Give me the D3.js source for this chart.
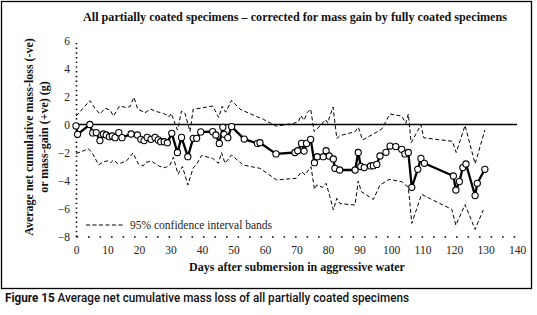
<!DOCTYPE html>
<html>
<head>
<meta charset="utf-8">
<script src="https://cdn.jsdelivr.net/npm/d3@7"></script>
<style>
  html, body { margin: 0; padding: 0; background: #fff; }
  svg { display: block; }
</style>
</head>
<body>
<div id="chart"></div>
<script>
// average net cumulative mass change, [day, grams]
const meanSeries = [
    [0, -0.1], [0.5, -0.7], [4.4, 0], [5.3, -0.6], [6.4, -0.58], [7.6, -1.15], [8.7, -0.68],
    [9.6, -0.75], [10.6, -0.87], [11.5, -0.82], [12.4, -0.94], [13.6, -0.58], [14.6, -0.94],
    [17.5, -0.68], [19.5, -0.75], [20.6, -1.06], [21.6, -1.15], [22.6, -0.92], [23.8, -1.06],
    [25.1, -0.92], [26.1, -1.1], [26.9, -1.23], [28, -1.23], [29, -1.3], [30.4, -0.63],
    [32.2, -2.0], [33.5, -0.92], [35.5, -2.3], [37.2, -0.99], [38.3, -0.99], [39.6, -0.53],
    [43.4, -0.51], [44.4, -0.75], [45.5, -1.35], [46.6, -0.2], [47, -0.7], [48.2, -0.94],
    [49.4, -0.15], [53.4, -1.04], [57.6, -1.35], [58.4, -1.3], [63.5, -2.1], [69.5, -2.0],
    [70.4, -1.87], [71.6, -1.35], [72.4, -1.9], [73.2, -1.35], [74.5, -1.06], [75.7, -2.73],
    [76.6, -2.3], [78.5, -2.3], [79.4, -1.87], [80.4, -2.25], [81.7, -2.46], [82.2, -3.13],
    [83.7, -3.25], [88.6, -3.25], [89.6, -2.0], [90.4, -3.0], [91.5, -3.08], [93.5, -2.96],
    [94.4, -2.94], [95.5, -2.85], [96.5, -2.25], [98.4, -1.99], [99.7, -1.54], [101.5, -1.58],
    [103.4, -1.77], [104.4, -2.1], [105.5, -2.0], [106.6, -4.49], [108.5, -3.2], [109.5, -2.42],
    [110.6, -2.77], [119.8, -3.68], [120.6, -4.68], [121.7, -4.08], [122.8, -3.08],
    [123.8, -2.82], [126.7, -5.08], [127.4, -4.2], [129.8, -3.2]
];

const upperBand = [
    [0, 0.6], [4.4, 1.7], [6, 1.16], [7.6, 0.75], [9.2, 1.16], [10.8, 1.04], [11.9, 0.6],
    [13.8, 1.32], [15.6, 1.23], [17.1, 1.27], [18.4, 1.94], [19.6, 1.1], [21.9, 0.84],
    [23.7, 1.1], [25.6, 0.92], [27.7, 0.8], [29.6, 0.56], [30.2, 0.8], [32.2, -0.39],
    [33.5, 0.96], [34.6, 0.8], [36.2, -0.51], [37.2, 1.09], [39.4, 1.16], [43.4, 1.32],
    [45.3, 0.5], [46.4, 1.3], [47.5, 0.88], [49.4, 1.72], [52.1, 1.09], [57.4, 0.56],
    [59.5, 0.37], [63.6, -0.12], [69, 0.08], [70.6, 0.2], [71.4, 0.64], [72.4, 0.3],
    [73.4, 0.85], [74.5, 1.1], [75.6, -0.51], [77.5, -0.1], [79.2, 0.35], [79.9, 0.1],
    [80.6, 0.6], [81.6, 1.25], [82.8, -1.0], [83.8, -0.8], [88.6, -0.51], [89.6, -0.2],
    [91, -1.1], [94.4, -0.68], [97, -0.34], [99.7, 0.75], [103.4, 0.6], [104.7, 0.08],
    [105.5, 0.75], [106.4, -1.3], [109.5, -0.02], [110.4, -0.95], [119.5, -1.2], [120.7, -2.0],
    [123.5, -0.07], [126.7, -2.8], [129.8, -0.39]
];

const lowerBand = [
    [0, -2.06], [1.8, -1.94], [3.9, -1.72], [5.3, -2.1], [7.2, -2.88], [8.7, -2.66],
    [10.3, -2.59], [11, -2.73], [11.9, -2.54], [13.4, -2.82], [14.5, -2.73], [16.1, -2.59],
    [18.1, -2.03], [19.8, -2.82], [21.4, -2.95], [22.2, -2.7], [24, -2.62], [26.4, -2.98],
    [28.4, -3.08], [29.8, -2.9], [30.9, -2.35], [32.4, -3.55], [33.8, -3.0], [35.5, -4.32],
    [37.2, -3.1], [38.3, -2.85], [39.8, -2.22], [43.4, -2.42], [45.2, -2.77], [46.2, -2.01],
    [47.3, -2.77], [49.4, -2.18], [53.1, -2.9], [58.4, -3.13], [63.7, -3.96], [70, -3.84],
    [71.6, -3.37], [72.7, -3.6], [74.6, -3.01], [75.7, -4.63], [76.4, -4.32], [78.3, -4.49],
    [79.4, -4.2], [80.6, -5.16], [81.7, -6.1], [82.8, -5.27], [83.8, -5.65], [88.6, -5.75],
    [89.6, -4.04], [90.6, -4.8], [94.4, -5.35], [96.5, -4.32], [99.4, -3.92], [103.4, -4.08],
    [105.5, -4.49], [106.6, -7.06], [109.7, -4.99], [119.3, -6.06], [120.6, -7.2],
    [123.5, -5.72], [126.7, -7.49], [129.3, -6.1]
];

const xTicks = [0, 10, 20, 30, 40, 50, 60, 70, 80, 90, 100, 110, 120, 130, 140];
const yTicks = [-8, -6, -4, -2, 0, 2, 4, 6];

const chartTitle = "All partially coated specimens \u2013 corrected for mass gain by fully coated specimens";
const xLabel = "Days after submersion in aggressive water";
const yLabelLines = ["Average net cumulative mass-loss (-ve)", "or mass-gain (+ve) (g)"];
const legendLabel = "95% confidence interval bands";
const captionBold = "Figure 15";
const captionText = " Average net cumulative mass loss of all partially coated specimens";

const width = 537;
const height = 315;
const serif = "'Liberation Serif', 'DejaVu Serif', serif";

const xScale = d3.scaleLinear().domain([0, 140]).range([76, 517]);
const yScale = d3.scaleLinear().domain([-8, 6]).range([236.5, 40.5]);

const svg = d3.select("#chart")
    .append("svg")
    .attr("width", width)
    .attr("height", height)
    .attr("viewBox", `0 0 ${width} ${height}`);

// frame round the figure
svg.append("rect")
    .attr("x", 1.5)
    .attr("y", 1.5)
    .attr("width", 530)
    .attr("height", 287)
    .attr("fill", "none")
    .attr("stroke", "#000")
    .attr("stroke-width", 1.3);

svg.append("text")
    .attr("x", 83)
    .attr("y", 21)
    .attr("textLength", 424)
    .attr("lengthAdjust", "spacingAndGlyphs")
    .style("font-family", serif)
    .style("font-size", "12px")
    .style("font-weight", "bold")
    .attr("fill", "#111")
    .text(chartTitle);

// x axis, dotted
svg.append("g")
    .attr("class", "x-axis")
    .attr("transform", `translate(0, ${yScale(-8)})`)
    .call(d3.axisBottom(xScale).tickValues(xTicks).tickSize(0).tickPadding(9))
    .call(g => g.select(".domain")
        .attr("stroke", "#000")
        .attr("stroke-width", 1.6)
        .attr("stroke-dasharray", "1.6,9.9"))
    .call(g => g.selectAll(".tick text")
        .style("font-family", serif)
        .style("font-size", "11.5px")
        .attr("fill", "#222"));

// y axis, dotted
svg.append("g")
    .attr("class", "y-axis")
    .attr("transform", `translate(${xScale(0)}, 0)`)
    .call(d3.axisLeft(yScale).tickValues(yTicks).tickSize(0).tickPadding(6))
    .call(g => g.select(".domain")
        .attr("stroke", "#000")
        .attr("stroke-width", 1.6)
        .attr("stroke-dasharray", "1.4,3.3"))
    .call(g => g.selectAll(".tick text")
        .style("font-family", serif)
        .style("font-size", "11.5px")
        .attr("fill", "#222"));

// zero reference line
svg.append("line")
    .attr("x1", xScale(0))
    .attr("x2", xScale(140))
    .attr("y1", yScale(0))
    .attr("y2", yScale(0))
    .attr("stroke", "#000")
    .attr("stroke-width", 1.4);

const line = d3.line()
    .x(d => xScale(d[0]))
    .y(d => yScale(d[1]));

svg.append("g")
    .attr("class", "bands")
    .selectAll("path")
    .data([upperBand, lowerBand])
    .join("path")
    .attr("fill", "none")
    .attr("stroke", "#000")
    .attr("stroke-width", 1)
    .attr("stroke-dasharray", "4,2.5")
    .attr("d", line);

svg.append("path")
    .datum(meanSeries)
    .attr("fill", "none")
    .attr("stroke", "#000")
    .attr("stroke-width", 2.3)
    .attr("stroke-linejoin", "round")
    .attr("d", line);

svg.append("g")
    .attr("class", "points")
    .selectAll("circle")
    .data(meanSeries)
    .join("circle")
    .attr("cx", d => xScale(d[0]))
    .attr("cy", d => yScale(d[1]))
    .attr("r", 3.1)
    .attr("fill", "#fff")
    .attr("stroke", "#000")
    .attr("stroke-width", 1.1);

// legend
svg.append("line")
    .attr("x1", 86)
    .attr("x2", 124)
    .attr("y1", 225)
    .attr("y2", 225)
    .attr("stroke", "#000")
    .attr("stroke-width", 1)
    .attr("stroke-dasharray", "4,2.5");

svg.append("text")
    .attr("x", 130)
    .attr("y", 229)
    .style("font-family", serif)
    .style("font-size", "11.5px")
    .attr("fill", "#222")
    .text(legendLabel);

svg.append("text")
    .attr("x", 297)
    .attr("y", 271)
    .attr("text-anchor", "middle")
    .style("font-family", serif)
    .style("font-size", "12px")
    .style("font-weight", "bold")
    .attr("fill", "#111")
    .text(xLabel);

const yLabel = svg.append("text")
    .attr("transform", "translate(0, 137) rotate(-90)")
    .attr("text-anchor", "middle")
    .style("font-family", serif)
    .style("font-size", "12px")
    .style("font-weight", "bold")
    .attr("fill", "#111");

yLabel.selectAll("tspan")
    .data(yLabelLines)
    .join("tspan")
    .attr("x", 0)
    .attr("y", (d, i) => 33 + i * 15)
    .text(d => d);

// figure caption under the frame
const caption = svg.append("text")
    .attr("x", 5)
    .attr("y", 302)
    .attr("textLength", 404)
    .attr("lengthAdjust", "spacingAndGlyphs")
    .style("font-family", "Roboto, 'Open Sans', sans-serif")
    .style("font-size", "13px")
    .attr("fill", "#111");

caption.append("tspan")
    .style("font-weight", "bold")
    .text(captionBold);

caption.append("tspan")
    .style("font-weight", "500")
    .text(captionText);
</script>
</body>
</html>
